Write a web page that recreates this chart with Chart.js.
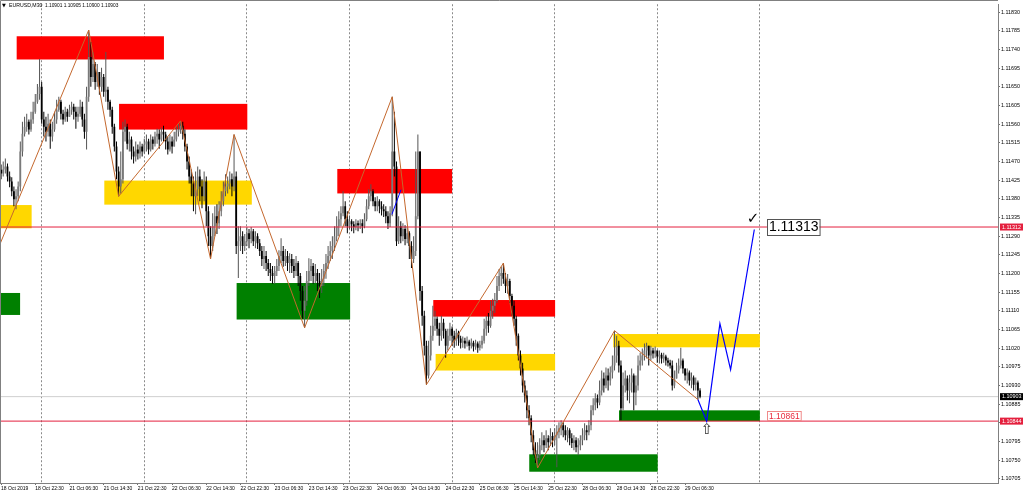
<!DOCTYPE html>
<html>
<head>
<meta charset="utf-8">
<script src="https://cdn.jsdelivr.net/npm/chart.js@4.4.0/dist/chart.umd.min.js"></script>
<style>
  html, body { margin: 0; padding: 0; background: #fff; }
</style>
</head>
<body>
<canvas id="priceChart" width="1024" height="493"></canvas>
<script>
// EURUSD M30 bars, prices stored as points above 1.10000 (1441 -> 1.11441)
const firstOpen = 1450;
const closes = [
  1441,1451,1458,1434,1422,1398,1379,1386, 1410,1494,1537,1554,1566,1547,1571,1590,
  1614,1633,1650,1571,1554,1542,1561,1530, 1547,1571,1595,1614,1585,1571,1590,1578,
  1595,1602,1590,1578,1585,1602,1571,1542, 1626,1722,1674,1705,1662,1686,1650,1674,
  1638,1643,1614,1595,1554,1506,1446,1410, 1427,1542,1554,1513,1523,1494,1482,1499,
  1489,1506,1494,1511,1518,1499,1523,1513, 1530,1537,1523,1542,1535,1518,1499,1518,
  1506,1523,1542,1547,1556,1537,1506,1470, 1434,1417,1386,1403,1434,1410,1386,1422,
  1350,1290,1266,1314,1338,1321,1350,1374, 1398,1410,1417,1427,1410,1434,1266,1278,
  1290,1266,1278,1297,1283,1302,1278,1290, 1273,1254,1235,1242,1225,1211,1201,1194,
  1206,1218,1242,1254,1230,1242,1225,1235, 1218,1206,1225,1194,1158,1110,1134,1182,
  1206,1218,1194,1201,1182,1170,1187,1206, 1225,1242,1254,1266,1290,1314,1331,1345,
  1362,1331,1314,1326,1319,1312,1321,1316, 1321,1314,1331,1362,1386,1398,1374,1362,
  1374,1362,1355,1350,1338,1321,1345,1494, 1458,1278,1314,1290,1307,1283,1297,1266,
  1235,1254,1338,1494,1158,1098,1026,954,  1002,1050,1074,1091,1067,1050,1081,1062,
  1026,1050,1067,1050,1038,1057,1043,1033, 1038,1031,1036,1026,1033,1024,1031,1021,
  1028,1038,1067,1086,1074,1110,1122,1134, 1170,1194,1201,1187,1170,1182,1146,1122,
  1091,1050,1002,971,930,906,870,851,      810,774,755,762,786,798,786,803,
  793,808,798,810,817,827,834,822,         810,822,803,791,798,781,786,798,
  810,822,817,834,870,882,899,889,         918,947,930,954,942,961,978,1002,
  1026,978,875,930,947,918,937,954,        913,930,978,990,1002,1014,1026,1002,
  1014,1007,1014,1000,1004,995,1000,990,   985,978,930,947,966,978,990,971,
  954,961,942,949,932,937,918,903
];
const highs = [
  1463,1470,1477,1465,1446,1432,1410,1403, 1422,1518,1566,1578,1585,1571,1590,1614,
  1633,1657,1717,1662,1590,1578,1585,1571, 1566,1590,1619,1626,1619,1595,1602,1597,
  1607,1614,1609,1602,1602,1619,1614,1585, 1650,1787,1758,1734,1710,1705,1686,1696,
  1681,1734,1650,1619,1602,1561,1518,1458, 1494,1566,1571,1561,1542,1530,1506,1518,
  1511,1518,1513,1525,1535,1525,1535,1530, 1542,1549,1547,1552,1556,1542,1530,1535,
  1530,1542,1554,1561,1568,1566,1547,1513, 1482,1451,1434,1446,1458,1451,1427,1446,
  1434,1362,1314,1345,1362,1367,1374,1398, 1422,1439,1434,1446,1441,1535,1446,1314,
  1314,1302,1295,1312,1307,1312,1307,1302, 1297,1283,1266,1266,1254,1235,1225,1218,
  1218,1235,1256,1285,1266,1259,1254,1249, 1247,1235,1242,1230,1201,1170,1170,1206,
  1237,1235,1225,1223,1211,1201,1211,1223, 1247,1266,1278,1290,1314,1338,1350,1362,
  1398,1374,1350,1340,1331,1326,1331,1328, 1331,1331,1345,1379,1403,1415,1403,1384,
  1386,1379,1374,1367,1362,1350,1362,1626, 1590,1470,1338,1326,1321,1316,1314,1302,
  1278,1290,1494,1535,1494,1170,1110,1038, 1038,1074,1122,1110,1096,1081,1098,1091,
  1067,1067,1081,1072,1062,1067,1062,1050, 1048,1045,1048,1040,1043,1038,1040,1036,
  1038,1050,1091,1098,1105,1134,1139,1153, 1194,1211,1216,1225,1201,1199,1187,1151,
  1134,1098,1055,1014,985,942,918,882,     858,822,793,793,803,817,810,822,
  810,827,817,827,834,841,846,841,         834,829,827,815,810,805,803,810,
  827,839,834,846,882,899,911,908,         942,966,961,973,971,976,1002,1062,
  1050,1038,990,961,966,954,956,971,       959,954,1002,1009,1019,1031,1033,1026,
  1026,1021,1024,1014,1014,1009,1009,1004, 997,992,990,966,985,995,1021,995,
  971,971,966,961,954,949,942,923
];
const lows = [
  1427,1434,1441,1422,1408,1386,1362,1355, 1374,1398,1482,1530,1542,1535,1542,1561,
  1585,1609,1619,1561,1530,1518,1530,1501, 1518,1542,1561,1590,1571,1559,1566,1566,
  1578,1583,1571,1549,1566,1578,1554,1525, 1499,1614,1650,1662,1643,1650,1631,1638,
  1626,1614,1595,1578,1537,1494,1427,1386, 1393,1417,1518,1499,1494,1475,1465,1470,
  1475,1477,1482,1489,1494,1487,1494,1499, 1506,1513,1501,1518,1518,1499,1487,1494,
  1489,1506,1518,1530,1537,1523,1494,1451, 1417,1386,1350,1343,1386,1374,1357,1374,
  1314,1266,1235,1254,1290,1295,1307,1338, 1362,1386,1393,1403,1386,1398,1247,1189,
  1254,1247,1254,1266,1261,1273,1266,1261, 1259,1242,1218,1211,1206,1194,1182,1175,
  1175,1194,1206,1225,1216,1218,1206,1201, 1201,1189,1194,1170,1134,1091,1069,1122,
  1170,1182,1175,1177,1158,1141,1153,1170, 1187,1211,1230,1235,1254,1278,1290,1314,
  1338,1314,1297,1307,1302,1297,1304,1302, 1307,1297,1309,1326,1355,1374,1362,1350,
  1350,1345,1340,1336,1321,1307,1312,1338, 1434,1266,1271,1273,1278,1268,1273,1235,
  1213,1225,1242,1331,1134,1074,1002,932,  947,990,1038,1062,1050,1026,1038,1043,
  997,1014,1038,1026,1021,1026,1026,1019,  1021,1019,1024,1014,1019,1012,1016,1009,
  1014,1019,1031,1050,1057,1069,1091,1105, 1129,1158,1170,1175,1153,1151,1129,1098,
  1074,1026,990,954,913,889,851,834,       793,762,743,731,750,774,769,779,
  774,784,781,786,733,803,810,805,         798,793,786,779,774,769,762,774,
  786,798,798,810,822,858,870,875,         882,906,913,923,918,930,947,966,
  985,961,846,870,913,894,887,913,         870,882,918,966,978,990,995,978,
  990,995,997,985,983,983,985,978,         976,971,918,923,947,959,971,959,
  942,935,930,923,918,918,896,899
];

// time axis: label every 16 bars, dotted line at each day start
const tickBars = [0,16,32,48,64,80,96,112,128,144,160,176,192,208,224,240,256,272,288,304,320];
const tickLabels = ['18 Oct 2019','18 Oct 22:30','21 Oct 06:30','21 Oct 14:30','21 Oct 22:30',
  '22 Oct 06:30','22 Oct 14:30','22 Oct 22:30','23 Oct 06:30','23 Oct 14:30','23 Oct 22:30',
  '24 Oct 06:30','24 Oct 14:30','24 Oct 22:30','25 Oct 06:30','25 Oct 14:30','25 Oct 22:30',
  '28 Oct 06:30','28 Oct 14:30','28 Oct 22:30','29 Oct 06:30'];
const dayBars = [19,67,115,163,211,259,307,355];
const priceTicks = [1.10705,1.10750,1.10795,1.10840,1.10885,1.10930,1.10975,1.11020,1.11065,
  1.11110,1.11155,1.11200,1.11245,1.11290,1.11335,1.11380,1.11425,1.11470,1.11515,1.11560,
  1.11605,1.11650,1.11695,1.11740,1.11785,1.11830];

// zones: [fromBar, toBar, lowPrice, highPrice]
const zones = [
  [7.3, 76.2, 1.11716, 1.11772], [55.2, 115.2, 1.11547, 1.11609], [48.3, 117.3, 1.11366, 1.11424],
  [-0.5, 14.3, 1.11309, 1.11365], [-0.5, 8.9, 1.11100, 1.11153], [110.2, 163.3, 1.11089, 1.11177],
  [157.3, 211.0, 1.11393, 1.11452], [202.2, 259.2, 1.11096, 1.11136], [203.3, 259.2, 1.10966, 1.11006],
  [286.4, 355.0, 1.11022, 1.11054], [289.1, 355.0, 1.10844, 1.10870], [247.1, 307.2, 1.10722, 1.10764]
];
const zoneColors = ['#ff0000','#ff0000','#ffd700','#ffd700','#008000','#008000',
  '#ff0000','#ff0000','#ffd700','#ffd700','#008000','#008000'];

const zigBars = [-0.5, 41, 55, 84, 98, 109, 142, 183, 199, 235, 251, 287, 326];
const zigPrices = [1.11271, 1.11787, 1.11386, 1.11568, 1.11235, 1.11535, 1.11069, 1.11626, 1.10932, 1.11225, 1.10731, 1.11062, 1.10896];
const projBars = [326, 330.1, 336.3, 341.3, 352.4];
const projPrices = [1.10896, 1.10844, 1.11079, 1.10968, 1.11306];
const smallBars = [182.8, 187.1];
const smallPrices = [1.11342, 1.11402];

const redLevels = [1.11312, 1.10844];
const bidPrice = 1.10903;
const targetPrice = 1.11313;
const stopPrice = 1.10861;

const X_MIN = -0.5, X_MAX = 466.4;
const Y_MIN = 1.106948, Y_MAX = 1.118492;

const toPrice = p => +(1.1 + p / 100000).toFixed(5);

var wickData = [], bodyData = [], wickColors = [], bodyColors = [];
for (let i = 0; i < closes.length; i++) {
  const o = i === 0 ? firstOpen : closes[i - 1];
  const c = closes[i];
  const up = c >= o;
  wickData.push({ x: i, y: [toPrice(lows[i]), toPrice(highs[i])] });
  bodyData.push({ x: i, y: [toPrice(o), toPrice(c)] });
  wickColors.push(up ? '#555555' : '#000000');
  bodyColors.push(up ? '#7a7a7a' : '#000000');
}

const pairs = (xs, ys) => xs.map((v, k) => ({ x: v, y: ys[k] }));

function lineSet(data, color, order, width) {
  return { type: 'line', data: data, borderColor: color, borderWidth: width || 1,
    pointRadius: 0, fill: false, tension: 0, order: order };
}

const overlay = {
  id: 'overlay',
  beforeDatasetsDraw(chart) {
    const { ctx, chartArea: a, scales: { x, y } } = chart;
    ctx.save();
    ctx.beginPath();
    ctx.rect(a.left, a.top, a.right - a.left, a.bottom - a.top);
    ctx.clip();
    zones.forEach((z, k) => {
      const x1 = x.getPixelForValue(z[0]), x2 = x.getPixelForValue(z[1]);
      const y1 = y.getPixelForValue(z[3]), y2 = y.getPixelForValue(z[2]);
      ctx.fillStyle = zoneColors[k];
      ctx.fillRect(x1, y1, x2 - x1, y2 - y1);
    });
    ctx.restore();
  },
  afterDraw(chart) {
    const { ctx, chartArea: a, scales: { x, y } } = chart;
    ctx.save();
    // frame
    ctx.strokeStyle = '#808080';
    ctx.lineWidth = 1;
    ctx.beginPath();
    ctx.moveTo(0.5, a.bottom); ctx.lineTo(0.5, 0.5); ctx.lineTo(a.right, 0.5);
    ctx.stroke();

    // title
    ctx.fillStyle = '#000';
    ctx.textBaseline = 'middle';
    ctx.font = '5px DejaVu Sans';
    ctx.fillText('\u25BC', 2, 6);
    ctx.font = '5.2px Liberation Sans';
    ctx.fillText('EURUSD,M30', 9, 6);
    ctx.font = '4.8px Liberation Sans';
    ctx.fillText('1.10901 1.10905 1.10900 1.10903', 45, 6);

    // price tags on the axis
    const tags = [[redLevels[0], '#e4203e'], [bidPrice, '#000000'], [redLevels[1], '#e4203e']];
    ctx.font = '5.4px Liberation Sans';
    tags.forEach(t => {
      const yp = y.getPixelForValue(t[0]);
      ctx.fillStyle = t[1];
      ctx.fillRect(1000, yp - 3.5, 23, 7);
      ctx.fillStyle = '#fff';
      ctx.fillText(t[0].toFixed(5), 1002, yp + 0.3);
    });

    // target label and tick
    const xl = x.getPixelForValue(358.3);
    let yc = y.getPixelForValue(targetPrice);
    ctx.font = '14px Liberation Sans';
    let w = ctx.measureText('1.11313').width;
    ctx.fillStyle = '#fff';
    ctx.fillRect(xl, yc - 8, w + 3, 16);
    ctx.strokeStyle = '#555';
    ctx.strokeRect(Math.round(xl) + 0.5, Math.round(yc - 8) + 0.5, w + 3, 16);
    ctx.fillStyle = '#000';
    ctx.fillText(targetPrice.toFixed(5), xl + 2, yc + 1);

    ctx.font = 'bold 15px DejaVu Sans';
    ctx.textAlign = 'center';
    ctx.fillText('\u2713', x.getPixelForValue(351.8), y.getPixelForValue(1.11331));

    // stop label
    yc = y.getPixelForValue(1.10857);
    ctx.textAlign = 'left';
    ctx.font = '8.5px Liberation Sans';
    w = ctx.measureText('1.10861').width;
    ctx.fillStyle = '#fff';
    ctx.fillRect(xl, yc - 4.5, w + 3, 9);
    ctx.strokeStyle = '#f08a8a';
    ctx.strokeRect(Math.round(xl) + 0.5, Math.round(yc - 4.5) + 0.5, w + 3, 9);
    ctx.fillStyle = '#e8283c';
    ctx.fillText(stopPrice.toFixed(5), xl + 2, yc + 0.5);

    // arrow under the projected low
    ctx.font = '15px DejaVu Sans';
    ctx.textAlign = 'center';
    ctx.fillStyle = '#333';
    ctx.fillText('\u21E7', x.getPixelForValue(330.3), y.getPixelForValue(1.10822));
    ctx.restore();
  }
};

var ctx = document.getElementById('priceChart').getContext('2d');
var priceChart = new Chart(ctx, {
  type: 'bar',
  data: {
    datasets: [
      lineSet(pairs(zigBars, zigPrices), '#c4682e', 0),
      lineSet(pairs(projBars, projPrices), '#0000ff', 0, 1.2),
      lineSet(pairs(smallBars, smallPrices), '#0000ff', 0),
      lineSet([{ x: X_MIN, y: redLevels[0] }, { x: X_MAX, y: redLevels[0] }], '#e4203e', 1),
      lineSet([{ x: X_MIN, y: redLevels[1] }, { x: X_MAX, y: redLevels[1] }], '#e4203e', 1),
      {
        type: 'bar', data: bodyData, backgroundColor: bodyColors, barThickness: 1.8,
        grouped: false, minBarLength: 1, inflateAmount: 0, borderWidth: 0, order: 2
      },
      {
        type: 'bar', data: wickData, backgroundColor: wickColors, barThickness: 1,
        grouped: false, inflateAmount: 0, borderWidth: 0, order: 3
      },
      lineSet([{ x: X_MIN, y: bidPrice }, { x: X_MAX, y: bidPrice }], '#cfcfcf', 4)
    ]
  },
  options: {
    responsive: false,
    animation: false,
    devicePixelRatio: 1,
    layout: { padding: { top: 2, left: 0, right: 0, bottom: 0 } },
    plugins: { legend: { display: false }, tooltip: { enabled: false } },
    scales: {
      x: {
        type: 'linear', position: 'bottom', min: X_MIN, max: X_MAX, offset: false,
        afterBuildTicks: s => { s.ticks = tickBars.map(v => ({ value: v })); },
        afterFit: s => { s.height = 10; },
        ticks: {
          autoSkip: false, maxRotation: 0, minRotation: 0, align: 'start', padding: 1,
          color: '#000', font: { family: 'Liberation Sans', size: 5 },
          callback: v => tickLabels[tickBars.indexOf(v)]
        },
        grid: { drawOnChartArea: false, drawTicks: true, tickLength: 2, tickColor: '#707070', offset: false },
        border: { display: true, color: '#808080' }
      },
      xDay: {
        type: 'linear', position: 'bottom', min: X_MIN, max: X_MAX, offset: false,
        afterBuildTicks: s => { s.ticks = dayBars.map(v => ({ value: v })); },
        afterFit: s => { s.height = 0; },
        ticks: { display: false },
        grid: { drawOnChartArea: true, drawTicks: false, color: '#8a8a8a', lineWidth: 1, offset: false },
        border: { display: false, dash: [2, 2] }
      },
      y: {
        type: 'linear', position: 'right', min: Y_MIN, max: Y_MAX,
        afterBuildTicks: s => { s.ticks = priceTicks.map(v => ({ value: v })); },
        afterFit: s => { s.width = 26; },
        ticks: {
          padding: 1, color: '#000', font: { family: 'Liberation Sans', size: 5.4 },
          callback: v => v.toFixed(5)
        },
        grid: { drawOnChartArea: false, drawTicks: true, tickLength: 2, tickColor: '#707070' },
        border: { display: true, color: '#808080' }
      }
    }
  },
  plugins: [overlay]
});
</script>
</body>
</html>
